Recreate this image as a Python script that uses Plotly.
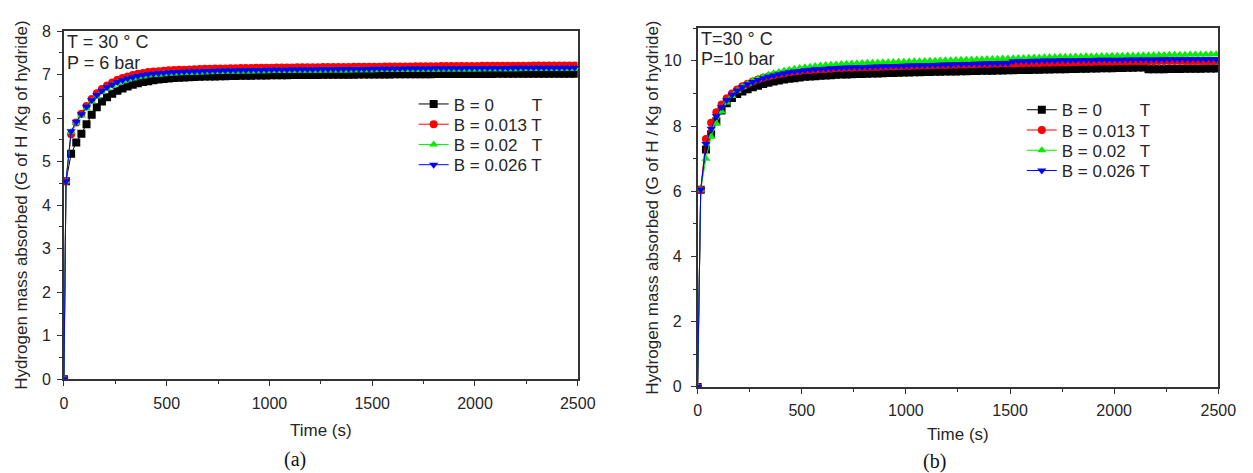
import plotly.graph_objects as go

W, H = 1253, 473

# ---------------- data ----------------
TIME_A = [0, 10, 35, 60, 85, 110, 135, 160, 185, 210,
          235, 260, 285, 310, 335, 360, 385, 410, 435, 460,
          485, 510, 535, 560, 585, 610, 635, 660, 685, 710,
          735, 760, 785, 810, 835, 860, 885, 910, 935, 960,
          985, 1010, 1035, 1060, 1085, 1110, 1135, 1160, 1185, 1210,
          1235, 1260, 1285, 1310, 1335, 1360, 1385, 1410, 1435, 1460,
          1485, 1510, 1535, 1560, 1585, 1610, 1635, 1660, 1685, 1710,
          1735, 1760, 1785, 1810, 1835, 1860, 1885, 1910, 1935, 1960,
          1985, 2010, 2035, 2060, 2085, 2110, 2135, 2160, 2185, 2210,
          2235, 2260, 2285, 2310, 2335, 2360, 2385, 2410, 2435, 2460,
          2485]

TIME_B = [0, 15, 40, 65, 90, 115, 140, 165, 190, 215,
          240, 265, 290, 315, 340, 365, 390, 415, 440, 465,
          490, 515, 540, 565, 590, 615, 640, 665, 690, 715,
          740, 765, 790, 815, 840, 865, 890, 915, 940, 965,
          990, 1015, 1040, 1065, 1090, 1115, 1140, 1165, 1190, 1215,
          1240, 1265, 1290, 1315, 1340, 1365, 1390, 1415, 1440, 1465,
          1490, 1515, 1540, 1565, 1590, 1615, 1640, 1665, 1690, 1715,
          1740, 1765, 1790, 1815, 1840, 1865, 1890, 1915, 1940, 1965,
          1990, 2015, 2040, 2065, 2090, 2115, 2140, 2165, 2190, 2215,
          2240, 2265, 2290, 2315, 2340, 2365, 2390, 2415, 2440, 2465,
          2490]

# Panel (a): T = 30 C, P = 6 bar
B0_A = [0, 4.55, 5.18, 5.44, 5.64, 5.86, 6.08, 6.25, 6.38, 6.48,
        6.56, 6.63, 6.68, 6.73, 6.77, 6.80, 6.83, 6.85, 6.87, 6.89,
        6.90, 6.91, 6.92, 6.93, 6.935, 6.94, 6.945, 6.95, 6.955, 6.96,
        6.96, 6.965, 6.965, 6.97, 6.97, 6.973, 6.975, 6.977, 6.98, 6.98,
        6.982, 6.984, 6.985, 6.986, 6.988, 6.99, 6.99, 6.991, 6.992, 6.993,
        6.994, 6.995, 6.996, 6.997, 6.998, 7.0, 7.0, 7.0, 7.001, 7.002,
        7.003, 7.004, 7.005, 7.005, 7.006, 7.007, 7.008, 7.008, 7.009, 7.01,
        7.01, 7.011, 7.011, 7.012, 7.012, 7.013, 7.013, 7.014, 7.014, 7.015,
        7.015, 7.016, 7.016, 7.017, 7.017, 7.018, 7.018, 7.018, 7.019, 7.019,
        7.02, 7.02, 7.02, 7.021, 7.021, 7.021, 7.022, 7.022, 7.022, 7.023,
        7.023]

B013_A = [0, 4.55, 5.63, 5.90, 6.10, 6.28, 6.44, 6.57, 6.67, 6.75,
          6.82, 6.88, 6.92, 6.96, 6.99, 7.02, 7.04, 7.06, 7.07, 7.08,
          7.09, 7.10, 7.105, 7.11, 7.115, 7.12, 7.125, 7.13, 7.133, 7.136,
          7.139, 7.142, 7.144, 7.146, 7.148, 7.15, 7.152, 7.154, 7.156, 7.158,
          7.16, 7.161, 7.162, 7.164, 7.165, 7.166, 7.168, 7.169, 7.17, 7.171,
          7.172, 7.173, 7.174, 7.175, 7.176, 7.177, 7.178, 7.179, 7.18, 7.181,
          7.182, 7.183, 7.184, 7.185, 7.186, 7.187, 7.188, 7.189, 7.19, 7.191,
          7.192, 7.193, 7.194, 7.195, 7.196, 7.196, 7.197, 7.198, 7.199, 7.2,
          7.2, 7.201, 7.202, 7.202, 7.203, 7.204, 7.204, 7.205, 7.206, 7.206,
          7.207, 7.207, 7.208, 7.208, 7.209, 7.209, 7.21, 7.21, 7.21, 7.211,
          7.211]

B02_A = [0, 4.55, 5.68, 5.89, 6.06, 6.23, 6.38, 6.50, 6.60, 6.68,
         6.74, 6.80, 6.84, 6.88, 6.91, 6.94, 6.96, 6.98, 6.99, 7.0,
         7.01, 7.02, 7.025, 7.03, 7.035, 7.04, 7.045, 7.05, 7.053, 7.056,
         7.059, 7.062, 7.064, 7.066, 7.068, 7.07, 7.072, 7.074, 7.076, 7.078,
         7.08, 7.081, 7.082, 7.084, 7.085, 7.086, 7.088, 7.089, 7.09, 7.091,
         7.092, 7.093, 7.094, 7.095, 7.096, 7.097, 7.098, 7.099, 7.1, 7.101,
         7.102, 7.103, 7.104, 7.105, 7.106, 7.107, 7.108, 7.109, 7.11, 7.111,
         7.112, 7.113, 7.114, 7.115, 7.116, 7.116, 7.117, 7.118, 7.119, 7.12,
         7.12, 7.121, 7.122, 7.122, 7.123, 7.124, 7.124, 7.125, 7.126, 7.126,
         7.127, 7.127, 7.128, 7.128, 7.129, 7.129, 7.13, 7.13, 7.13, 7.131,
         7.131]

B026_A = [0, 4.55, 5.70, 5.92, 6.09, 6.26, 6.41, 6.53, 6.63, 6.71,
          6.77, 6.83, 6.87, 6.91, 6.94, 6.97, 6.99, 7.01, 7.02, 7.03,
          7.04, 7.05, 7.055, 7.06, 7.065, 7.07, 7.075, 7.08, 7.083, 7.086,
          7.089, 7.092, 7.094, 7.096, 7.098, 7.10, 7.102, 7.104, 7.106, 7.108,
          7.11, 7.111, 7.112, 7.114, 7.115, 7.116, 7.118, 7.119, 7.12, 7.121,
          7.122, 7.123, 7.124, 7.125, 7.126, 7.127, 7.128, 7.129, 7.13, 7.131,
          7.132, 7.133, 7.134, 7.135, 7.136, 7.137, 7.138, 7.139, 7.14, 7.141,
          7.142, 7.143, 7.144, 7.145, 7.146, 7.146, 7.147, 7.148, 7.149, 7.15,
          7.15, 7.151, 7.152, 7.152, 7.153, 7.154, 7.154, 7.155, 7.156, 7.156,
          7.157, 7.157, 7.158, 7.158, 7.159, 7.159, 7.16, 7.16, 7.16, 7.161,
          7.161]

# Panel (b): T = 30 C, P = 10 bar
B0_B = [0, 6.05, 7.28, 7.75, 8.15, 8.48, 8.70, 8.86, 8.98, 9.06,
        9.13, 9.19, 9.24, 9.29, 9.33, 9.37, 9.40, 9.43, 9.45, 9.47,
        9.49, 9.51, 9.52, 9.53, 9.54, 9.55, 9.56, 9.57, 9.58, 9.585,
        9.59, 9.595, 9.60, 9.605, 9.61, 9.615, 9.62, 9.625, 9.63, 9.635,
        9.64, 9.645, 9.65, 9.653, 9.656, 9.66, 9.663, 9.666, 9.67, 9.673,
        9.676, 9.68, 9.683, 9.686, 9.69, 9.693, 9.696, 9.70, 9.703, 9.706,
        9.71, 9.713, 9.716, 9.72, 9.723, 9.726, 9.73, 9.733, 9.736, 9.74,
        9.743, 9.746, 9.75, 9.753, 9.756, 9.76, 9.763, 9.766, 9.77, 9.773,
        9.776, 9.78, 9.783, 9.786, 9.79, 9.793, 9.796, 9.74, 9.742, 9.744,
        9.746, 9.748, 9.75, 9.752, 9.754, 9.756, 9.758, 9.76, 9.762, 9.764,
        9.766]

B013_B = [0, 6.05, 7.60, 8.10, 8.42, 8.66, 8.85, 9.00, 9.12, 9.22,
          9.30, 9.37, 9.43, 9.48, 9.52, 9.56, 9.59, 9.62, 9.65, 9.67,
          9.69, 9.71, 9.72, 9.73, 9.74, 9.75, 9.76, 9.77, 9.78, 9.785,
          9.79, 9.795, 9.80, 9.805, 9.81, 9.815, 9.82, 9.825, 9.83, 9.835,
          9.84, 9.845, 9.85, 9.854, 9.858, 9.862, 9.866, 9.87, 9.874, 9.878,
          9.882, 9.886, 9.89, 9.894, 9.898, 9.902, 9.906, 9.91, 9.913, 9.916,
          9.919, 9.922, 9.925, 9.928, 9.931, 9.934, 9.937, 9.94, 9.943, 9.946,
          9.949, 9.952, 9.955, 9.958, 9.961, 9.964, 9.967, 9.97, 9.972, 9.974,
          9.976, 9.978, 9.98, 9.982, 9.984, 9.986, 9.988, 9.99, 9.991, 9.992,
          9.993, 9.994, 9.995, 9.996, 9.997, 9.998, 9.998, 9.999, 9.999, 10.0,
          10.0]

B02_B = [0, 6.05, 7.00, 7.68, 8.08, 8.45, 8.72, 8.92, 9.08, 9.20,
         9.30, 9.39, 9.46, 9.52, 9.57, 9.62, 9.66, 9.70, 9.73, 9.76,
         9.78, 9.80, 9.82, 9.84, 9.86, 9.87, 9.88, 9.89, 9.90, 9.91,
         9.92, 9.93, 9.935, 9.94, 9.945, 9.95, 9.955, 9.96, 9.965, 9.97,
         9.975, 9.98, 9.985, 9.99, 9.995, 10.0, 10.005, 10.01, 10.015, 10.02,
         10.025, 10.03, 10.035, 10.04, 10.045, 10.05, 10.055, 10.06, 10.065, 10.07,
         10.075, 10.08, 10.085, 10.09, 10.095, 10.1, 10.105, 10.11, 10.115, 10.12,
         10.123, 10.126, 10.129, 10.132, 10.135, 10.138, 10.141, 10.144, 10.147, 10.15,
         10.153, 10.156, 10.159, 10.162, 10.165, 10.168, 10.171, 10.174, 10.177, 10.18,
         10.182, 10.184, 10.186, 10.188, 10.19, 10.192, 10.194, 10.196, 10.198, 10.2,
         10.2]

B026_B = [0, 6.05, 7.45, 7.92, 8.30, 8.58, 8.80, 8.96, 9.09, 9.19,
          9.28, 9.35, 9.41, 9.47, 9.51, 9.55, 9.59, 9.62, 9.65, 9.67,
          9.69, 9.71, 9.725, 9.74, 9.75, 9.76, 9.77, 9.78, 9.79, 9.795,
          9.80, 9.805, 9.81, 9.815, 9.82, 9.825, 9.83, 9.835, 9.84, 9.845,
          9.85, 9.855, 9.86, 9.864, 9.868, 9.872, 9.876, 9.88, 9.884, 9.888,
          9.892, 9.896, 9.90, 9.904, 9.908, 9.912, 9.916, 9.92, 9.923, 9.926,
          9.929, 9.99, 9.993, 9.996, 9.999, 10.002, 10.005, 10.008, 10.011, 10.014,
          10.016, 10.018, 10.02, 10.022, 10.024, 10.026, 10.028, 10.03, 10.032, 10.034,
          10.035, 10.036, 10.037, 10.038, 10.039, 10.04, 10.041, 10.042, 10.043, 10.044,
          10.045, 10.046, 10.047, 10.048, 10.048, 10.049, 10.049, 10.05, 10.05, 10.05,
          10.05]

NBSP = "\u00a0"
LABELS = ["B = 0" + NBSP * 8 + "T", "B = 0.013 T", "B = 0.02" + NBSP * 3 + "T", "B = 0.026 T"]
COLORS = ["#000000", "#ff0000", "#00ee00", "#0000ff"]
SYMBOLS = ["square", "circle", "triangle-up", "triangle-down"]
SERIES_A = [B0_A, B013_A, B02_A, B026_A]
SERIES_B = [B0_B, B013_B, B02_B, B026_B]

X_TICKS = [0, 500, 1000, 1500, 2000, 2500]
Y_TICKS_A = [0, 1, 2, 3, 4, 5, 6, 7, 8]
Y_TICKS_B = [0, 2, 4, 6, 8, 10]

for s in SERIES_A:
    assert len(s) == len(TIME_A)
for s in SERIES_B:
    assert len(s) == len(TIME_B)

# ---------------- figure ----------------
def px(x):
    return x / W

def py(y):
    return 1 - y / H

FONT = "Liberation Sans, Arial, sans-serif"
AX = "#333333"
TXT = "#262626"

# legend rows (pixel centre of each entry) for each panel
LEG_ROWS_A = [100, 121, 142, 163]
LEG_ROWS_B = [106, 127, 148, 169]
LEG_X_A = 417
LEG_X_B = 1036

fig = go.Figure()
legends = {}
for i in range(4):
    name = "legend" if i == 0 else f"legend{i + 1}"
    fig.add_trace(go.Scatter(
        x=TIME_A, y=SERIES_A[i], mode="lines+markers", name=LABELS[i],
        line=dict(color=COLORS[i], width=1),
        marker=dict(symbol=SYMBOLS[i], size=8, color=COLORS[i], line=dict(width=0)),
        xaxis="x", yaxis="y", legend=name))
    legends[name] = dict(x=px(LEG_X_A), y=py(LEG_ROWS_A[i]), xanchor="left", yanchor="middle",
                         bgcolor="rgba(0,0,0,0)", font=dict(family=FONT, size=17, color=TXT),
                         itemwidth=30)
for i in range(4):
    name = f"legend{i + 5}"
    fig.add_trace(go.Scatter(
        x=TIME_B, y=SERIES_B[i], mode="lines+markers", name=LABELS[i],
        line=dict(color=COLORS[i], width=1),
        marker=dict(symbol=SYMBOLS[i], size=8, color=COLORS[i], line=dict(width=0)),
        xaxis="x2", yaxis="y2", legend=name))
    legends[name] = dict(x=px(LEG_X_B), y=py(LEG_ROWS_B[i]), xanchor="left", yanchor="middle",
                         bgcolor="rgba(0,0,0,0)", font=dict(family=FONT, size=17, color=TXT),
                         itemwidth=30)

axis_common = dict(
    showgrid=False, zeroline=False, showline=True, linecolor=AX, linewidth=1.5,
    mirror=True, ticks="outside", ticklen=5, tickwidth=1.3, tickcolor=AX,
    tickfont=dict(family=FONT, size=16, color=TXT),
)
title_font = dict(family=FONT, size=17, color=TXT)

fig.update_layout(
    width=W, height=H,
    margin=dict(l=0, r=0, t=0, b=0),
    paper_bgcolor="white", plot_bgcolor="white",
    font=dict(family=FONT, color=TXT),
    showlegend=True,
    xaxis=dict(domain=[px(61), px(584)], range=[0, 2500], tickvals=X_TICKS, anchor="y",
               title=dict(text="Time (s)", font=title_font, standoff=13),
               minor=dict(dtick=250, tick0=0, ticks="outside", ticklen=3, tickcolor=AX),
               ticklabelstandoff=4,
               **axis_common),
    yaxis=dict(domain=[py(385), py(24)], range=[0, 8], tickvals=Y_TICKS_A, anchor="x",
               title=dict(text="Hydrogen mass absorbed (G of H /Kg of hydride)",
                          font=title_font, standoff=10),
               minor=dict(dtick=0.5, tick0=0, ticks="outside", ticklen=3, tickcolor=AX),
               ticklabelstandoff=3,
               **axis_common),
    xaxis2=dict(domain=[px(706), px(1236)], range=[0, 2500], tickvals=X_TICKS, anchor="y2",
                title=dict(text="Time (s)", font=title_font, standoff=10),
                minor=dict(dtick=250, tick0=0, ticks="outside", ticklen=3, tickcolor=AX),
                ticklabelstandoff=3,
                **axis_common),
    yaxis2=dict(domain=[py(393), py(21)], range=[0, 11], tickvals=Y_TICKS_B, anchor="x2",
                title=dict(text="Hydrogen mass absorbed (G of H / Kg of hydride)",
                           font=title_font, standoff=1),
                minor=dict(dtick=1, tick0=0, ticks="outside", ticklen=3, tickcolor=AX),
                ticklabelstandoff=6,
                **axis_common),
    **legends,
)

ann_font = dict(family=FONT, size=18, color=TXT)
fig.add_annotation(text="T = 30 ° C", x=px(62), y=py(35), xref="paper", yref="paper",
                   xanchor="left", yanchor="middle", showarrow=False, font=ann_font)
fig.add_annotation(text="P = 6 bar", x=px(62), y=py(57), xref="paper", yref="paper",
                   xanchor="left", yanchor="middle", showarrow=False, font=ann_font)
fig.add_annotation(text="T=30 ° C", x=px(707), y=py(32), xref="paper", yref="paper",
                   xanchor="left", yanchor="middle", showarrow=False, font=ann_font)
fig.add_annotation(text="P=10 bar", x=px(707), y=py(53), xref="paper", yref="paper",
                   xanchor="left", yanchor="middle", showarrow=False, font=ann_font)

serif = dict(family="Liberation Serif, Times New Roman, serif", size=20, color="#111")
fig.add_annotation(text="(a)", x=px(296), y=py(468), xref="paper", yref="paper",
                   xanchor="center", yanchor="middle", showarrow=False, font=serif)
fig.add_annotation(text="(b)", x=px(947), y=py(470), xref="paper", yref="paper",
                   xanchor="center", yanchor="middle", showarrow=False, font=serif)

fig.write_html("out.html")
